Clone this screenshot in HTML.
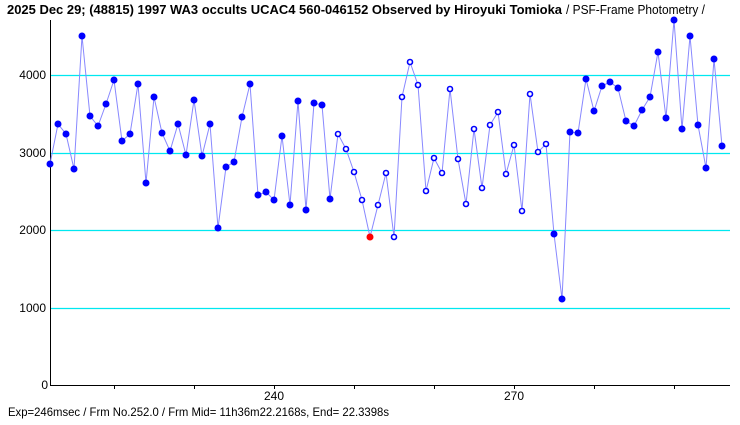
<!DOCTYPE html>
<html><head><meta charset="utf-8"><style>
html,body{margin:0;padding:0;background:#fff;}
svg{display:block;}
text{font-family:"Liberation Sans","Noto Sans CJK JP",sans-serif;fill:#000;}
</style></head><body>
<svg width="740" height="425" viewBox="0 0 740 425" xmlns="http://www.w3.org/2000/svg">
<text x="7" y="14" font-size="12.5" font-weight="bold" textLength="555" lengthAdjust="spacingAndGlyphs">2025 Dec 29; (48815) 1997 WA3 occults UCAC4 560-046152 Observed by Hiroyuki Tomioka</text>
<text x="566" y="14" font-size="12.5" textLength="139" lengthAdjust="spacingAndGlyphs">/ PSF-Frame Photometry /</text>
<g stroke="#00e8f0" stroke-width="1.2">
<line x1="50" y1="75.5" x2="730" y2="75.5"/>
<line x1="50" y1="153.5" x2="730" y2="153.5"/>
<line x1="50" y1="230.5" x2="730" y2="230.5"/>
<line x1="50" y1="308.5" x2="730" y2="308.5"/>
</g>
<g font-size="12" text-anchor="end">
<text x="46" y="79">4000</text>
<text x="46" y="157">3000</text>
<text x="46" y="234">2000</text>
<text x="46" y="312">1000</text>
<text x="48" y="389">0</text>
</g>
<line x1="50.5" y1="20" x2="50.5" y2="386" stroke="#000" stroke-width="1"/>
<line x1="50" y1="385.5" x2="730" y2="385.5" stroke="#000" stroke-width="1"/>
<g stroke="#000">
<line x1="114.5" y1="385" x2="114.5" y2="389"/>
<line x1="194.5" y1="385" x2="194.5" y2="389"/>
<line x1="274.5" y1="385" x2="274.5" y2="389"/>
<line x1="354.5" y1="385" x2="354.5" y2="389"/>
<line x1="434.5" y1="385" x2="434.5" y2="389"/>
<line x1="514.5" y1="385" x2="514.5" y2="389"/>
<line x1="594.5" y1="385" x2="594.5" y2="389"/>
<line x1="674.5" y1="385" x2="674.5" y2="389"/>
</g>
<g font-size="12" text-anchor="middle">
<text x="274" y="400">240</text>
<text x="514" y="400">270</text>
</g>
<text x="8" y="416" font-size="12" textLength="381" lengthAdjust="spacingAndGlyphs">Exp=246msec / Frm No.252.0 / Frm Mid= 11h36m22.2168s,  End= 22.3398s</text>
<polyline fill="none" stroke="#8888ff" stroke-width="1" points="50,164 58,124 66,134 74,169 82,36 90,116 98,126 106,104 114,80 122,141 130,134 138,84 146,183 154,97 162,133 170,151 178,124 186,155 194,100 202,156 210,124 218,228 226,167 234,162 242,117 250,84 258,195 266,192 274,200 282,136 290,205 298,101 306,210 314,103 322,105 330,199 338,134 346,149 354,172 362,200 370,237 378,205 386,173 394,237 402,97 410,62 418,85 426,191 434,158 442,173 450,89 458,159 466,204 474,129 482,188 490,125 498,112 506,174 514,145 522,211 530,94 538,152 546,144 554,234 562,299 570,132 578,133 586,79 594,111 602,86 610,82 618,88 626,121 634,126 642,110 650,97 658,52 666,118 674,20 682,129 690,36 698,125 706,168 714,59 722,146"/>
<g fill="#0000ff">
<circle cx="50" cy="164" r="3.5"/><circle cx="58" cy="124" r="3.5"/><circle cx="66" cy="134" r="3.5"/><circle cx="74" cy="169" r="3.5"/><circle cx="82" cy="36" r="3.5"/><circle cx="90" cy="116" r="3.5"/><circle cx="98" cy="126" r="3.5"/><circle cx="106" cy="104" r="3.5"/><circle cx="114" cy="80" r="3.5"/><circle cx="122" cy="141" r="3.5"/><circle cx="130" cy="134" r="3.5"/><circle cx="138" cy="84" r="3.5"/><circle cx="146" cy="183" r="3.5"/><circle cx="154" cy="97" r="3.5"/><circle cx="162" cy="133" r="3.5"/><circle cx="170" cy="151" r="3.5"/><circle cx="178" cy="124" r="3.5"/><circle cx="186" cy="155" r="3.5"/><circle cx="194" cy="100" r="3.5"/><circle cx="202" cy="156" r="3.5"/><circle cx="210" cy="124" r="3.5"/><circle cx="218" cy="228" r="3.5"/><circle cx="226" cy="167" r="3.5"/><circle cx="234" cy="162" r="3.5"/><circle cx="242" cy="117" r="3.5"/><circle cx="250" cy="84" r="3.5"/><circle cx="258" cy="195" r="3.5"/><circle cx="266" cy="192" r="3.5"/><circle cx="274" cy="200" r="3.5"/><circle cx="282" cy="136" r="3.5"/><circle cx="290" cy="205" r="3.5"/><circle cx="298" cy="101" r="3.5"/><circle cx="306" cy="210" r="3.5"/><circle cx="314" cy="103" r="3.5"/><circle cx="322" cy="105" r="3.5"/><circle cx="330" cy="199" r="3.5"/>
<circle cx="554" cy="234" r="3.5"/><circle cx="562" cy="299" r="3.5"/><circle cx="570" cy="132" r="3.5"/><circle cx="578" cy="133" r="3.5"/><circle cx="586" cy="79" r="3.5"/><circle cx="594" cy="111" r="3.5"/><circle cx="602" cy="86" r="3.5"/><circle cx="610" cy="82" r="3.5"/><circle cx="618" cy="88" r="3.5"/><circle cx="626" cy="121" r="3.5"/><circle cx="634" cy="126" r="3.5"/><circle cx="642" cy="110" r="3.5"/><circle cx="650" cy="97" r="3.5"/><circle cx="658" cy="52" r="3.5"/><circle cx="666" cy="118" r="3.5"/><circle cx="674" cy="20" r="3.5"/><circle cx="682" cy="129" r="3.5"/><circle cx="690" cy="36" r="3.5"/><circle cx="698" cy="125" r="3.5"/><circle cx="706" cy="168" r="3.5"/><circle cx="714" cy="59" r="3.5"/><circle cx="722" cy="146" r="3.5"/>
</g>
<g fill="#fff" stroke="#0000ff" stroke-width="1.6">
<circle cx="338" cy="134" r="2.5"/><circle cx="346" cy="149" r="2.5"/><circle cx="354" cy="172" r="2.5"/><circle cx="362" cy="200" r="2.5"/><circle cx="378" cy="205" r="2.5"/><circle cx="386" cy="173" r="2.5"/><circle cx="394" cy="237" r="2.5"/><circle cx="402" cy="97" r="2.5"/><circle cx="410" cy="62" r="2.5"/><circle cx="418" cy="85" r="2.5"/><circle cx="426" cy="191" r="2.5"/><circle cx="434" cy="158" r="2.5"/><circle cx="442" cy="173" r="2.5"/><circle cx="450" cy="89" r="2.5"/><circle cx="458" cy="159" r="2.5"/><circle cx="466" cy="204" r="2.5"/><circle cx="474" cy="129" r="2.5"/><circle cx="482" cy="188" r="2.5"/><circle cx="490" cy="125" r="2.5"/><circle cx="498" cy="112" r="2.5"/><circle cx="506" cy="174" r="2.5"/><circle cx="514" cy="145" r="2.5"/><circle cx="522" cy="211" r="2.5"/><circle cx="530" cy="94" r="2.5"/><circle cx="538" cy="152" r="2.5"/><circle cx="546" cy="144" r="2.5"/>
</g>
<circle cx="370" cy="237" r="3.5" fill="#ff0000"/>
</svg>
</body></html>
